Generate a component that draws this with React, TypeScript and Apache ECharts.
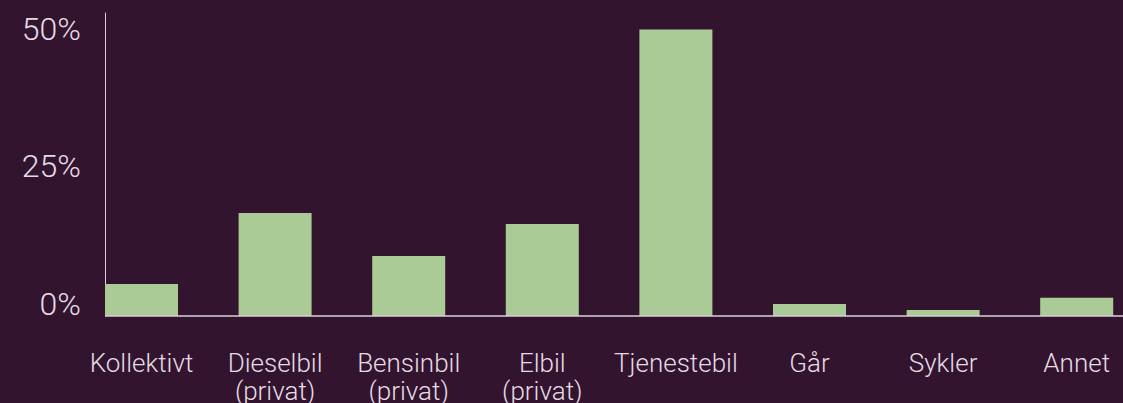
import React, { useEffect, useRef } from "react";
import * as echarts from "echarts";

const categories = [
  "Kollektivt",
  "Dieselbil\n(privat)",
  "Bensinbil\n(privat)",
  "Elbil\n(privat)",
  "Tjenestebil",
  "Går",
  "Sykler",
  "Annet",
];
const shares = [5.8, 18.7, 10.9, 16.7, 52, 2.2, 1.1, 3.3];
const yTicks = [0, 25, 50];

const BG = "#33142f";
const BAR = "#aacb95";
const TXT = "#e4dce4";
const FONT = "Roboto, 'Noto Sans', sans-serif";

export default function App() {
  const ref = useRef<HTMLDivElement>(null);
  useEffect(() => {
    document.body.style.margin = "0";
    const chart = echarts.init(ref.current!, null, { renderer: "svg" });
    const gridBottom = 87;
    const H = 403;
    chart.setOption({
      animation: false,
      backgroundColor: BG,
      grid: {
        left: 74.7,
        right: -20.5,
        top: 13,
        bottom: gridBottom,
        outerBoundsMode: "none",
        containLabel: false,
      },
      xAxis: {
        type: "category",
        data: categories,
        boundaryGap: true,
        axisLine: { show: false },
        axisTick: { show: false },
        axisLabel: {
          color: TXT,
          fontFamily: FONT,
          fontSize: 26,
          fontWeight: 300,
          lineHeight: 28,
          margin: 33,
          interval: 0,
        },
      },
      yAxis: {
        type: "value",
        min: 0,
        max: 55,
        interval: 25,
        offset: -30.3,
        axisLine: { show: true, lineStyle: { color: "#d9d0d9", width: 1 } },
        axisTick: { show: false },
        splitLine: { show: false },
        axisLabel: {
          color: TXT,
          fontFamily: FONT,
          fontSize: 32,
          fontWeight: 300,
          margin: 24,
          verticalAlign: "bottom",
          lineHeight: 24,
          showMaxLabel: false,
          formatter: (v: number) => (yTicks.includes(v) ? `${v}%` : ""),
        },
      },
      series: [
        {
          type: "bar",
          data: shares,
          barWidth: 73,
          itemStyle: { color: BAR },
        },
      ],
      graphic: [
        {
          type: "line",
          z: 10,
          shape: { x1: 105, y1: H - gridBottom, x2: 1123, y2: H - gridBottom },
          style: { stroke: "#d9d0d9", lineWidth: 1.5 },
        },
      ],
    });
    return () => chart.dispose();
  }, []);
  return (
    <div
      ref={ref}
      style={{ position: "absolute", left: 0, top: 0, width: 1123, height: 403 }}
    />
  );
}
